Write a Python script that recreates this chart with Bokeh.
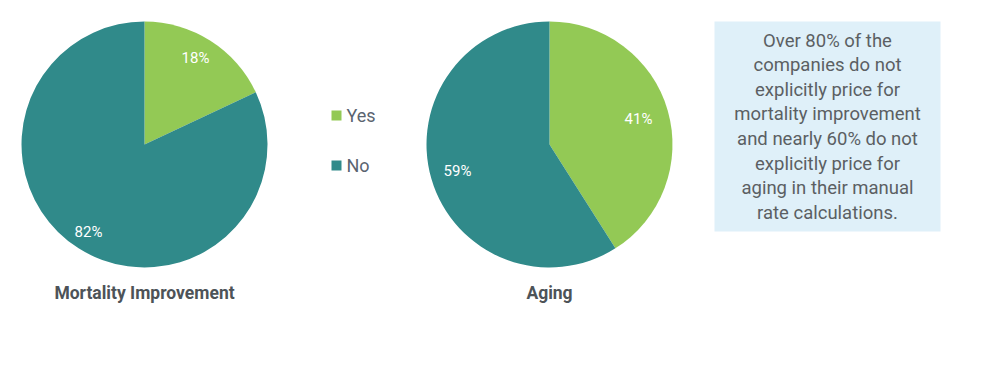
import math
from bokeh.plotting import figure
from bokeh.models import Range1d, ColumnDataSource
from bokeh.core.properties import value
from bokeh.embed import file_html
from bokeh.resources import INLINE

categories = ["Yes", "No"]
mortality_values = [18, 82]
aging_values = [41, 59]
chart_titles = ["Mortality Improvement", "Aging"]
colors = ["#93c955", "#308a8a"]
note_lines = ["Over 80% of the", "companies do not", "explicitly price for",
              "mortality improvement", "and nearly 60% do not",
              "explicitly price for", "aging in their manual",
              "rate calculations."]

FONT = "Roboto"
W, H = 984, 359

p = figure(width=W, height=H, output_backend="svg", toolbar_location=None,
           x_range=Range1d(0, 984), y_range=Range1d(16, 375),
           min_border=0, outline_line_color=None)
p.axis.visible = False
p.grid.visible = False
p.background_fill_color = "white"
p.border_fill_color = "white"

def Y(py):
    return 375 - py

R = 123
centers = [(144, 144), (549, 144)]
label_pos = [[(195, 57), (88, 231)], [(638, 118), (457, 170)]]

for (cx, cy), vals, lp, title in zip(centers, [mortality_values, aging_values], label_pos, chart_titles):
    total = sum(vals)
    starts, ends = [], []
    cum = 0
    for v in vals:
        a0 = cum / total
        cum += v
        a1 = cum / total
        starts.append(math.pi / 2 - 2 * math.pi * a1)
        ends.append(math.pi / 2 - 2 * math.pi * a0)
    src = ColumnDataSource(dict(x=[cx] * len(vals), y=[Y(cy)] * len(vals),
                                s=starts, e=ends, c=colors))
    p.wedge(x="x", y="y", radius=R, start_angle="s", end_angle="e",
            fill_color="c", line_color=None, source=src)
    p.text(x=[q[0] for q in lp], y=[Y(q[1]) for q in lp],
           text=[f"{v}%" for v in vals], text_color="white",
           text_font=value(FONT), text_font_size="15px",
           text_align="center", text_baseline="middle")
    p.text(x=[cx], y=[Y(292)], text=[title], text_color="#4d5358",
           text_font=value(FONT), text_font_size="17.5px", text_font_style="bold",
           text_align="center", text_baseline="middle")

# legend
leg_y = [115, 165]
p.rect(x=[336, 336], y=[Y(v) for v in leg_y], width=10, height=10,
       fill_color=colors, line_color=None)
p.text(x=[346, 346], y=[Y(v) for v in leg_y], text=categories,
       text_color="#5a6470", text_font=value(FONT), text_font_size="18px",
       text_align="left", text_baseline="middle")

# note box
p.quad(left=[714], right=[940], top=[Y(21)], bottom=[Y(231)],
       fill_color="#dff0f9", line_color=None)
p.text(x=[827] * len(note_lines),
       y=[Y(40 + i * 24.6) for i in range(len(note_lines))],
       text=note_lines, text_color="#5b5f63", text_font=value(FONT),
       text_font_size="18.5px", text_align="center", text_baseline="middle")

open("out.html", "w").write(file_html(p, INLINE))
